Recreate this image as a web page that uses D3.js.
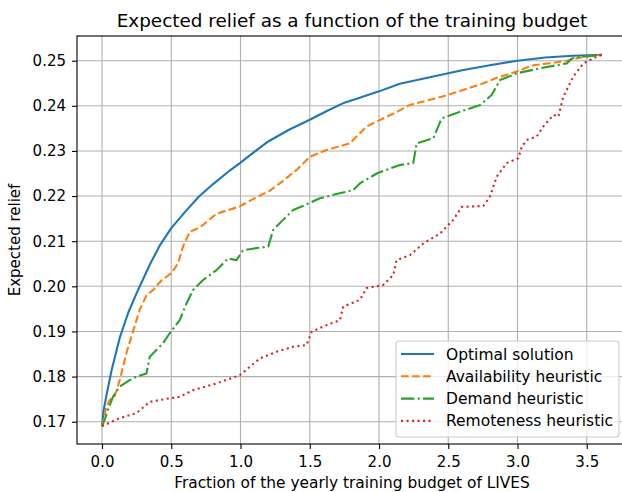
<!DOCTYPE html>
<html>
<head>
<meta charset="utf-8">
<script src="https://cdn.jsdelivr.net/npm/d3@7"></script>
<style>
  body { margin: 0; background: #fff; }
  svg { display: block; font-family: "DejaVu Sans", sans-serif; }
</style>
</head>
<body>
<svg id="chart"></svg>
<script>
// Expected relief vs. fraction of the training budget

const seriesNames = [
  "Optimal solution",
  "Availability heuristic",
  "Demand heuristic",
  "Remoteness heuristic",
];

// [budget fraction, expected relief]
const optimal = [
  [0, 0.169], [0.01, 0.1722], [0.03, 0.1755], [0.07, 0.1815], [0.13, 0.1888],
  [0.19, 0.1942], [0.25, 0.1985], [0.35, 0.2051], [0.42, 0.2092], [0.5, 0.2129],
  [0.6, 0.2165], [0.7, 0.2199], [0.8, 0.2226], [0.92, 0.2256], [1.0, 0.2274],
  [1.1, 0.2298], [1.2, 0.2321], [1.35, 0.2347], [1.5, 0.2369], [1.62, 0.2388],
  [1.75, 0.2407], [1.85, 0.2417], [2.0, 0.2432], [2.15, 0.2449], [2.3, 0.2459],
  [2.45, 0.2469], [2.6, 0.2479], [2.8, 0.249], [3.0, 0.25], [3.2, 0.2507],
  [3.4, 0.2511], [3.61, 0.2513],
];

const availability = [
  [0, 0.169], [0.01, 0.1705], [0.032, 0.1733], [0.056, 0.1748], [0.092, 0.1757],
  [0.128, 0.1792], [0.152, 0.1822], [0.18, 0.1856], [0.212, 0.1888], [0.272, 0.1948],
  [0.321, 0.198], [0.369, 0.1992], [0.429, 0.2013], [0.501, 0.2029], [0.549, 0.2051],
  [0.585, 0.2088], [0.634, 0.2121], [0.682, 0.2127], [0.73, 0.2136], [0.827, 0.2161],
  [0.9, 0.2168], [0.995, 0.2177], [1.1, 0.2195], [1.212, 0.2212], [1.284, 0.2228],
  [1.405, 0.2258], [1.5, 0.2287], [1.621, 0.2302], [1.79, 0.2317], [1.91, 0.2354],
  [2.03, 0.2372], [2.12, 0.2385], [2.223, 0.2402], [2.35, 0.2412], [2.464, 0.2421],
  [2.585, 0.2433], [2.753, 0.245], [2.85, 0.2462], [2.994, 0.2476], [3.114, 0.249],
  [3.25, 0.2495], [3.355, 0.25], [3.452, 0.2507], [3.61, 0.2513],
];

const demand = [
  [0, 0.169], [0.02, 0.1705], [0.043, 0.1726], [0.079, 0.1755], [0.128, 0.1778],
  [0.2, 0.1792], [0.248, 0.18], [0.321, 0.1807], [0.345, 0.1844], [0.393, 0.1859],
  [0.441, 0.1874], [0.489, 0.1896], [0.561, 0.1925], [0.61, 0.1962], [0.658, 0.1992],
  [0.73, 0.2014], [0.827, 0.2036], [0.911, 0.2062], [0.971, 0.2058], [1.019, 0.208],
  [1.1, 0.2084], [1.2, 0.2088], [1.236, 0.2125], [1.3, 0.2145], [1.38, 0.2169],
  [1.45, 0.2178], [1.573, 0.2195], [1.7, 0.2205], [1.814, 0.2213], [1.862, 0.2228],
  [1.983, 0.225], [2.08, 0.2261], [2.151, 0.2269], [2.247, 0.2273], [2.272, 0.2317],
  [2.392, 0.2328], [2.452, 0.2372], [2.585, 0.2387], [2.731, 0.2402], [2.813, 0.2424],
  [2.874, 0.2457], [2.994, 0.2472], [3.162, 0.2483], [3.355, 0.2494], [3.392, 0.2505],
  [3.5, 0.251], [3.61, 0.2513],
];

const remoteness = [
  [0, 0.169], [0.128, 0.1708], [0.248, 0.1719], [0.345, 0.1744], [0.489, 0.1752],
  [0.561, 0.1755], [0.658, 0.177], [0.827, 0.1785], [0.995, 0.1803], [1.08, 0.1825],
  [1.139, 0.184], [1.26, 0.1855], [1.38, 0.1866], [1.477, 0.187], [1.513, 0.1899],
  [1.621, 0.1914], [1.718, 0.1925], [1.742, 0.1955], [1.862, 0.197], [1.91, 0.1996],
  [2.03, 0.2003], [2.103, 0.2025], [2.127, 0.2058], [2.223, 0.2069], [2.32, 0.2095],
  [2.44, 0.2117], [2.536, 0.2147], [2.597, 0.2176], [2.753, 0.2178], [2.801, 0.2199],
  [2.85, 0.2243], [2.922, 0.2273], [3.006, 0.2284], [3.03, 0.2309], [3.066, 0.2324],
  [3.139, 0.2332], [3.186, 0.2354], [3.259, 0.238], [3.295, 0.2376], [3.331, 0.242],
  [3.403, 0.2465], [3.475, 0.2494], [3.572, 0.2509], [3.61, 0.2513],
];

const xTicks = [0, 0.5, 1, 1.5, 2, 2.5, 3, 3.5];
const yTicks = [0.17, 0.18, 0.19, 0.2, 0.21, 0.22, 0.23, 0.24, 0.25];

const width = 622;
const height = 492;
// the right spine sits just past the edge of the picture
const margin = { top: 36, right: -5, bottom: 48, left: 77 };

const svg = d3.select("#chart").attr("width", width).attr("height", height);

const x = d3.scaleLinear()
  .domain([-0.1805, 3.7905])
  .range([margin.left, width - margin.right]);
const y = d3.scaleLinear()
  .domain([0.16506, 0.25547])
  .range([height - margin.bottom, margin.top]);

const plotW = width - margin.right - margin.left;
const plotH = height - margin.bottom - margin.top;
const centerX = margin.left + plotW / 2;

// grid
const grid = svg.append("g").attr("stroke", "#b0b0b0").attr("stroke-width", 1.1);
grid.selectAll(".gx").data(xTicks).enter().append("line")
  .attr("x1", (d) => x(d)).attr("x2", (d) => x(d))
  .attr("y1", margin.top).attr("y2", margin.top + plotH);
grid.selectAll(".gy").data(yTicks).enter().append("line")
  .attr("y1", (d) => y(d)).attr("y2", (d) => y(d))
  .attr("x1", margin.left).attr("x2", margin.left + plotW);

// lines
const line = d3.line().x((d) => x(d[0])).y((d) => y(d[1]));
const styles = [
  { data: optimal, color: "#1f77b4", dash: null },
  { data: availability, color: "#ff7f0e", dash: "7.7,3.3" },
  { data: demand, color: "#2ca02c", dash: "13.3,3.3,2.1,3.3" },
  { data: remoteness, color: "#d62728", dash: "2.1,3.4" },
];

const plot = svg.append("g");
styles.forEach((s) => {
  plot.append("path")
    .datum(s.data)
    .attr("fill", "none")
    .attr("stroke", s.color)
    .attr("stroke-width", 2.1)
    .attr("stroke-dasharray", s.dash)
    .attr("stroke-linejoin", "round")
    .attr("d", line);
});

// axes
const xAxis = d3.axisBottom(x).tickValues(xTicks).tickFormat(d3.format(".1f"))
  .tickSize(5).tickPadding(7);
const yAxis = d3.axisLeft(y).tickValues(yTicks).tickFormat(d3.format(".2f"))
  .tickSize(5).tickPadding(6);

const gx = svg.append("g")
  .attr("transform", `translate(0,${margin.top + plotH})`)
  .call(xAxis);
const gy = svg.append("g")
  .attr("transform", `translate(${margin.left},0)`)
  .call(yAxis);

[gx, gy].forEach((g) => {
  g.select(".domain").remove();
  g.selectAll("line").attr("stroke", "#000").attr("stroke-width", 1.1);
  g.selectAll("text")
    .attr("fill", "#000")
    .style("font-size", "15px")
    .style("font-family", "DejaVu Sans");
});

// spines
svg.append("rect")
  .attr("x", margin.left).attr("y", margin.top)
  .attr("width", plotW).attr("height", plotH)
  .attr("fill", "none").attr("stroke", "#000").attr("stroke-width", 1.1);

// title and labels
svg.append("text")
  .attr("x", centerX).attr("y", 27)
  .attr("text-anchor", "middle")
  .style("font-size", "18.4px")
  .text("Expected relief as a function of the training budget");

svg.append("text")
  .attr("x", centerX).attr("y", 488)
  .attr("text-anchor", "middle")
  .style("font-size", "15.4px")
  .text("Fraction of the yearly training budget of LIVES");

svg.append("text")
  .attr("transform", `translate(20,${margin.top + plotH / 2}) rotate(-90)`)
  .attr("text-anchor", "middle")
  .style("font-size", "15px")
  .text("Expected relief");

// legend
const legend = svg.append("g").attr("transform", "translate(396,341)");
legend.append("rect")
  .attr("width", 223).attr("height", 96).attr("rx", 3)
  .attr("fill", "#fff").attr("fill-opacity", 0.8)
  .attr("stroke", "#cccccc").attr("stroke-width", 1.1);

seriesNames.forEach((name, i) => {
  const row = legend.append("g").attr("transform", `translate(0,${13 + i * 22.3})`);
  row.append("line")
    .attr("x1", 5).attr("x2", 38)
    .attr("stroke", styles[i].color)
    .attr("stroke-width", 2.1)
    .attr("stroke-dasharray", styles[i].dash);
  row.append("text")
    .attr("x", 50).attr("y", 5.5)
    .style("font-size", "15.5px")
    .text(name);
});
</script>
</body>
</html>
